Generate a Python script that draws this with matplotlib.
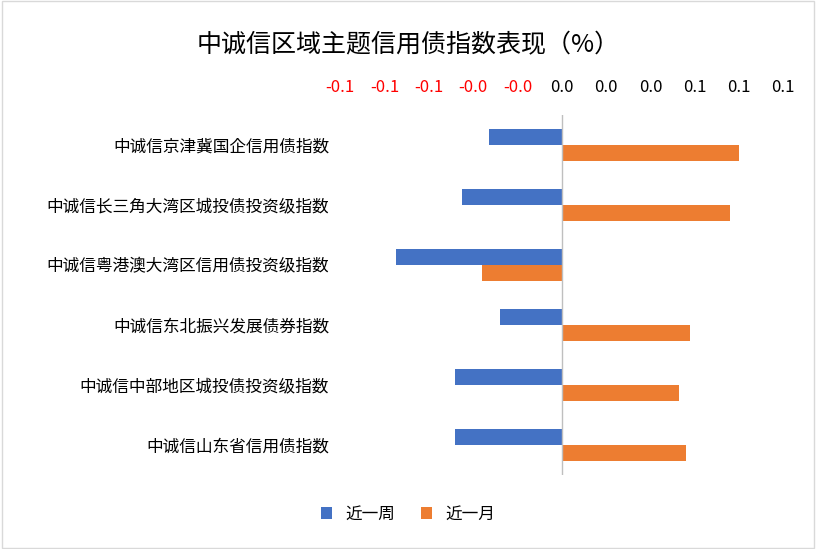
import matplotlib
matplotlib.use("Agg")
import matplotlib.pyplot as plt
from matplotlib import font_manager
import numpy as np

cands = [f for f in font_manager.findSystemFonts() if "CJK" in f or "cjk" in f.lower()]
for f in cands:
    try:
        font_manager.fontManager.addfont(f)
    except Exception:
        pass
names = set(f.name for f in font_manager.fontManager.ttflist)
fam = [n for n in ["Noto Sans CJK SC", "Noto Sans CJK JP", "Noto Sans CJK TC", "Noto Sans CJK KR"] if n in names]
if not fam:
    fam = sorted(n for n in names if "CJK" in n)
plt.rcParams["font.family"] = fam + ["DejaVu Sans"]

categories = ["中诚信京津冀国企信用债指数", "中诚信长三角大湾区城投债投资级指数",
              "中诚信粤港澳大湾区信用债投资级指数", "中诚信东北振兴发展债券指数",
              "中诚信中部地区城投债投资级指数", "中诚信山东省信用债指数"]
week = [-0.033, -0.045, -0.075, -0.028, -0.048, -0.048]
month = [0.080, 0.076, -0.036, 0.058, 0.053, 0.056]
ticks = [-0.10, -0.08, -0.06, -0.04, -0.02, 0.0, 0.02, 0.04, 0.06, 0.08, 0.10]

fig = plt.figure(figsize=(8.16, 5.49), dpi=100)
ax = fig.add_axes([0.417, 0.135, 0.543, 0.655])
y = np.arange(len(categories))
h = 0.27
ax.barh(y - h/2, week, height=h, color="#4472C4", label="近一周")
ax.barh(y + h/2, month, height=h, color="#ED7D31", label="近一月")
ax.set_ylim(len(categories) - 0.5, -0.5)
ax.set_xlim(-0.10, 0.10)
ax.set_yticks(y)
ax.set_yticklabels(categories, fontsize=12)
ax.tick_params(axis="y", length=0, pad=8)
ax.xaxis.tick_top()
ax.set_xticks(ticks)
ax.set_xticklabels(["0.0" if t == 0 else f"{t:.1f}" for t in ticks], fontsize=12)
for lab, t in zip(ax.get_xticklabels(), ticks):
    lab.set_color("#FF0000" if t < 0 else "#000000")
ax.tick_params(axis="x", length=0, pad=14)
for s in ax.spines.values():
    s.set_visible(False)
ax.axvline(0, color="#BFBFBF", lw=1)
ax.patch.set_alpha(0)
fig.text(0.5, 0.918, "中诚信区域主题信用债指数表现（%）", ha="center", va="center", fontsize=18)
fig.legend(loc="lower center", bbox_to_anchor=(0.5, 0.02), ncol=2, frameon=False,
           fontsize=12, handlelength=0.7, handleheight=0.7, columnspacing=1.5)
fig.patches.append(matplotlib.patches.Rectangle((0.002, 0.002), 0.996, 0.996, transform=fig.transFigure,
                   fill=False, edgecolor="#D9D9D9", lw=1))
fig.savefig("out.png", dpi=100)
